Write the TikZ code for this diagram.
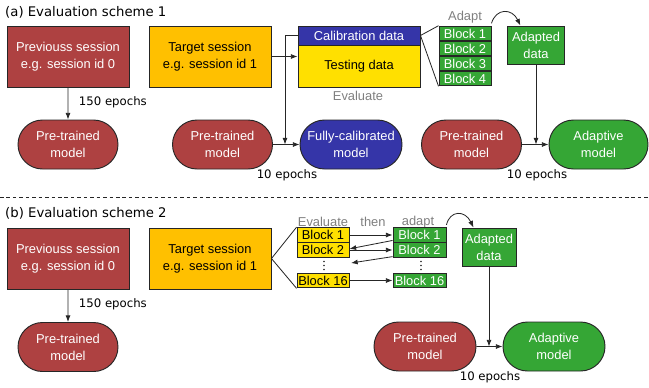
\documentclass[tikz,border=0pt]{standalone}
\usepackage{fontspec}
\setmainfont{Liberation Sans}
\newfontfamily\labelfont{DejaVu Sans}
\usetikzlibrary{arrows.meta,shapes.misc}
\definecolor{diagramPrev}{HTML}{AE4141}
\definecolor{diagramTarget}{HTML}{FFC000}
\definecolor{diagramTest}{HTML}{FFE000}
\definecolor{diagramCalib}{HTML}{3535A8}
\definecolor{diagramAdapt}{HTML}{35A635}
\definecolor{diagramLine}{HTML}{262626}
\definecolor{diagramNote}{HTML}{7F7F7F}

\begin{document}
\begin{tikzpicture}[
    x=0.03cm,y=-0.03cm,>=Latex,
    every node/.style={font=\fontsize{11}{14.5}\selectfont,align=center,inner sep=0pt},
    session/.style={draw=diagramLine,line width=0.8pt,minimum width=3.66cm,minimum height=1.83cm},
    model/.style={rounded rectangle,draw=diagramLine,line width=0.8pt,minimum width=3cm,minimum height=1.47cm},
    block/.style={draw=diagramLine,line width=0.8pt,minimum width=1.56cm,minimum height=0.44cm},
    adapted/.style={draw=diagramLine,line width=0.8pt,fill=diagramAdapt,text=white,minimum width=1.71cm,minimum height=1.14cm},
    heading/.style={anchor=west,font=\labelfont\fontsize{11.3}{13}\selectfont},
    epochs/.style={font=\labelfont\fontsize{10}{12}\selectfont},
    note/.style={text=diagramNote},
    flow/.style={-{Latex[length=2mm]},draw=diagramLine,line width=0.7pt},
    link/.style={draw=diagramLine,line width=0.7pt}
]
\useasboundingbox (0,0) rectangle (649,387);

% (a) scheme 1
\node[heading] (titlea) at (5,12) {(a) Evaluation scheme 1};
\node[session,fill=diagramPrev,text=white] (prev) at (68,56.5) {Previouss session\\e.g. session id 0};
\node[model,fill=diagramPrev,text=white] (pre) at (68,144.5) {Pre-trained\\model};
\draw[flow] (prev) -- (pre) node[pos=0.45,right=9pt,epochs] {150 epochs};

\node[session,fill=diagramTarget] (target) at (210,56.5) {Target session\\e.g. session id 1};
\node[session,fill=diagramCalib,text=white,minimum height=0.57cm] (calib) at (359,35.5) {Calibration data};
\node[session,fill=diagramTest,minimum height=1.26cm] (test) at (359,66) {Testing data};
\node[note] (evala) at (358,96) {Evaluate};
\draw[flow] (target.east) -- (target.east -| test.west);

\node[model,fill=diagramPrev,text=white] (prefull) at (222.5,144.5) {Pre-trained\\model};
\node[model,fill=diagramCalib,text=white,minimum width=3.06cm] (fullcal) at (351,144.5) {Fully-calibrated\\model};
\coordinate (joinfull) at (285,144.5);
\draw[flow] (calib.west) -| (joinfull);
\draw[flow] (prefull) -- (fullcal);
\node[epochs] (epfull) at (287,175) {10 epochs};

\node[note] (adapta) at (465,17) {Adapt};
\foreach \i/\y in {1/33.5,2/48.5,3/63.5,4/78.5}
  \node[block,fill=diagramAdapt,text=white] (blk\i) at (465,\y) {Block \i};
\draw[link] (calib.east) -- (blk1.north west);
\draw[link] (calib.east) -- (blk4.south west);
\node[adapted] (adapdata) at (536,45) {Adapted\\data};
\draw[flow] ([yshift=2pt]blk1.north east) .. controls (496,8) and (512,8) .. ([xshift=0.4cm]adapdata.north west);

\node[model,fill=diagramPrev,text=white] (preadapt) at (471.5,144.5) {Pre-trained\\model};
\node[model,fill=diagramAdapt,text=white,minimum width=2.97cm] (adaptive) at (598.5,144.5) {Adaptive\\model};
\draw[flow] (adapdata.south) -- (adapdata.south |- preadapt.east);
\draw[flow] (preadapt) -- (adaptive);
\node[epochs] (epadapt) at (537,175) {10 epochs};

\draw[link,dash pattern=on 3pt off 2.5pt,line width=0.6pt] (0,197) -- (649,197);

% (b) scheme 2
\node[heading] (titleb) at (5,213) {(b) Evaluation scheme 2};
\node[session,fill=diagramPrev,text=white] (prevb) at (68,258.5) {Previouss session\\e.g. session id 0};
\node[model,fill=diagramPrev,text=white] (preb) at (68,347) {Pre-trained\\model};
\draw[flow] (prevb) -- (preb) node[pos=0.45,right=9pt,epochs] {150 epochs};

\node[session,fill=diagramTarget] (targetb) at (210,258.5) {Target session\\e.g. session id 1};
\node[note] (evalb) at (323,222) {Evaluate};
\node[note] (thenb) at (373,222) {then};
\node[note] (adaptb) at (418,222) {adapt};
\foreach \n/\y in {1/235,2/250,16/280.5}{
  \node[block,fill=diagramTest] (yb\n) at (323,\y) {Block \n};
  \node[block,fill=diagramAdapt,text=white,minimum width=1.59cm] (gb\n) at (419.5,\y) {Block \n};
}
% vertical dots between the blocks
\foreach \x in {324,421}
  \foreach \y in {261.5,265.5,269.5}
    \fill[diagramLine] (\x,\y) circle (0.75pt);
\draw[link] (targetb.east) -- (yb1.north west);
\draw[link] (targetb.east) -- (yb16.south west);
\coordinate (gapb) at (351,263);
\draw[flow] (yb1) -- (gb1);
\draw[flow] ([yshift=2pt]gb1.south west) -- ([yshift=1pt]yb2.east);
\draw[flow] (yb2) -- (gb2);
\draw[flow] ([yshift=1pt]gb2.south west) -- (gapb);
\draw[flow] (yb16) -- (gb16);

\node[adapted,minimum width=1.62cm] (adapdatab) at (489,247) {Adapted\\data};
\draw[flow] ([yshift=2pt]gb1.north east) .. controls (450,210) and (465,210) .. ([xshift=0.36cm]adapdatab.north west);
\node[model,fill=diagramPrev,text=white,minimum width=3.06cm] (preadaptb) at (425,346.5) {Pre-trained\\model};
\node[model,fill=diagramAdapt,text=white,minimum width=3.06cm] (adaptiveb) at (554,346.5) {Adaptive\\model};
\draw[flow] (adapdatab.south) -- (adapdatab.south |- preadaptb.east);
\draw[flow] (preadaptb) -- (adaptiveb);
\node[epochs] (epadaptb) at (490,377) {10 epochs};
\end{tikzpicture}
\end{document}
